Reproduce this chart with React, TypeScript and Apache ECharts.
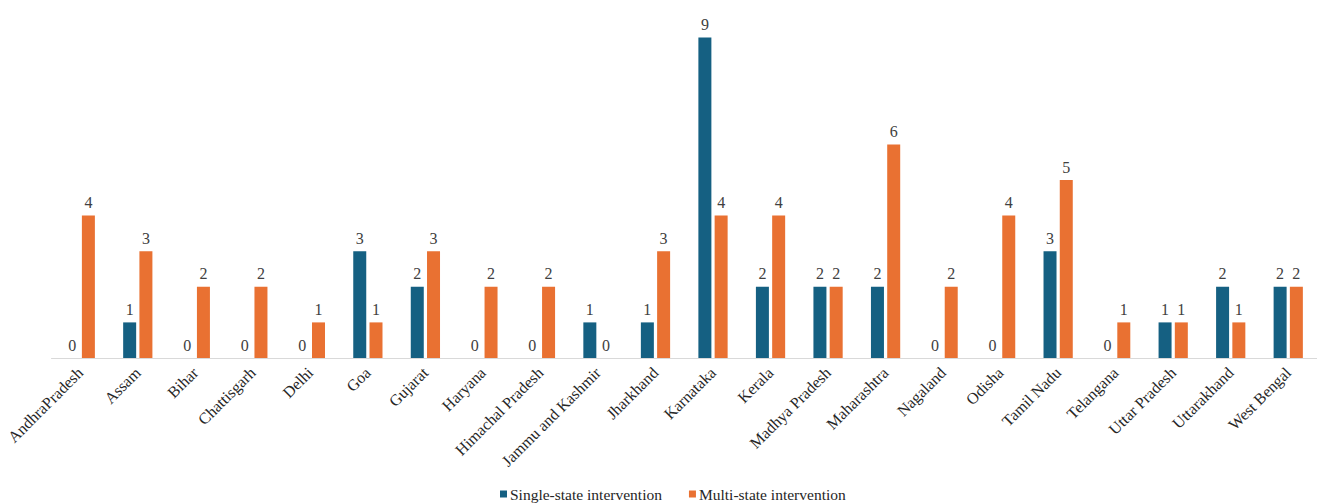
import React, { useEffect, useRef } from "react";
import * as echarts from "echarts";

const categories = [
  "AndhraPradesh", "Assam", "Bihar", "Chattisgarh", "Delhi", "Goa", "Gujarat", "Haryana",
  "Himachal Pradesh", "Jammu and Kashmir", "Jharkhand", "Karnataka", "Kerala", "Madhya Pradesh",
  "Maharashtra", "Nagaland", "Odisha", "Tamil Nadu", "Telangana", "Uttar Pradesh", "Uttarakhand",
  "West Bengal",
];
const singleState = [0, 1, 0, 0, 0, 3, 2, 0, 0, 1, 1, 9, 2, 2, 2, 0, 0, 3, 0, 1, 2, 2];
const multiState = [4, 3, 2, 2, 1, 1, 3, 2, 2, 0, 3, 4, 4, 2, 6, 2, 4, 5, 1, 1, 1, 2];

const FONT = "'Liberation Serif', 'Times New Roman', serif";

export default function App() {
  const ref = useRef<HTMLDivElement>(null);
  useEffect(() => {
    if (!ref.current) return;
    const chart = echarts.init(ref.current, null, { renderer: "svg" });
    const label = {
      show: true,
      position: "top",
      distance: 5,
      color: "#404040",
      fontFamily: FONT,
      fontSize: 16,
    };
    chart.setOption({
      animation: false,
      textStyle: { fontFamily: FONT },
      grid: { left: 51.5, right: -9, top: 2, bottom: 145, containLabel: false },
      legend: {
        left: 500,
        top: 486,
        padding: 0,
        itemWidth: 7,
        itemHeight: 7,
        itemGap: 27,
        icon: "rect",
        textStyle: { fontFamily: FONT, fontSize: 15.5, color: "#262626", padding: [0, 0, 0, -2] },
        data: ["Single-state intervention", "Multi-state intervention"],
      },
      xAxis: {
        type: "category",
        data: categories,
        axisLine: { show: true, lineStyle: { color: "#d9d9d9", width: 1 } },
        axisTick: { show: false },
        axisLabel: {
          rotate: 45,
          interval: 0,
          margin: 12,
          color: "#262626",
          fontFamily: FONT,
          fontSize: 16,
        },
      },
      yAxis: {
        type: "value",
        min: 0,
        max: 10,
        show: false,
        splitLine: { show: false },
      },
      series: [
        {
          name: "Single-state intervention",
          type: "bar",
          data: singleState,
          barWidth: 13,
          barGap: "25%",
          itemStyle: { color: "#156082" },
          label,
        },
        {
          name: "Multi-state intervention",
          type: "bar",
          data: multiState,
          barWidth: 13,
          barGap: "25%",
          itemStyle: { color: "#E97132" },
          label,
        },
      ],
    });
    return () => chart.dispose();
  }, []);
  return (
    <div
      ref={ref}
      style={{ position: "absolute", left: 0, top: 0, width: 1317, height: 503, background: "#fff" }}
    />
  );
}
